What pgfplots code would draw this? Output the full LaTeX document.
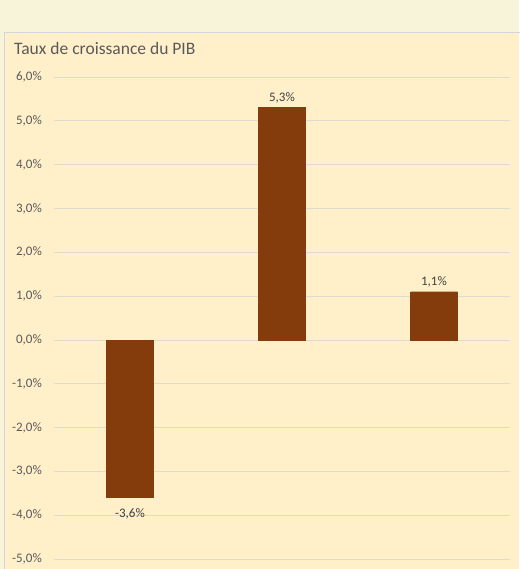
\documentclass[border=0pt]{standalone}
\usepackage{pgfplots}
\pgfplotsset{compat=1.18}
\usepackage{fontspec}
\setmainfont{Carlito}
\definecolor{outerbg}{HTML}{F8F4DA}
\definecolor{chartbg}{HTML}{FFF0CA}
\definecolor{chartborder}{HTML}{D3D6DC}
\definecolor{gridc}{HTML}{DDDAD0}
\definecolor{barc}{HTML}{843C0C}
\definecolor{txt}{HTML}{595959}
\definecolor{lbl}{HTML}{404040}
\begin{document}
\begin{tikzpicture}[x=1pt,y=1pt]
\useasboundingbox (0,0) rectangle (519,569);
\fill[outerbg] (0,0) rectangle (519,569);
\fill[chartbg] (4.5,0) rectangle (519,536.5);
\draw[chartborder, line width=1pt] (4.5,-2) -- (4.5,536.5) -- (525,536.5);
\node[anchor=base west, text=txt, font=\fontsize{17.5}{20}\selectfont, inner sep=0pt] at (14,514) {Taux de croissance du PIB};
\begin{axis}[
  at={(54pt,10pt)}, anchor=south west,
  scale only axis, width=456pt, height=482pt,
  xmin=-0.5, xmax=2.5, ymin=-5, ymax=6,
  ytick={-5,-4,-3,-2,-1,0,1,2,3,4,5,6},
  xtick=\empty,
  axis line style={draw=none},
  ymajorgrids, grid style={gridc, line width=0.8pt},
  major tick length=0pt,
  yticklabel={\pgfmathprintnumber[fixed,fixed zerofill,precision=1,use comma,assume math mode=true]{\tick}\%},
  yticklabel style={font=\fontsize{13}{15}\selectfont, text=txt, anchor=east, inner sep=0pt, xshift=-12pt},
  ybar, bar width=47pt, bar shift=0pt,
  nodes near coords={\pgfmathprintnumber[fixed,fixed zerofill,precision=1,use comma,assume math mode=true]{\pgfplotspointmeta}\%},
  nodes near coords style={font=\fontsize{13}{15}\selectfont, text=lbl},
  clip=false,
]
\addplot[fill=barc, draw=barc, nodes near coords style={yshift=-7pt}] coordinates {(0,-3.6)};
\addplot[fill=barc, draw=barc, nodes near coords style={yshift=1pt}] coordinates {(1,5.3) (2,1.1)};
\end{axis}
\end{tikzpicture}
\end{document}
